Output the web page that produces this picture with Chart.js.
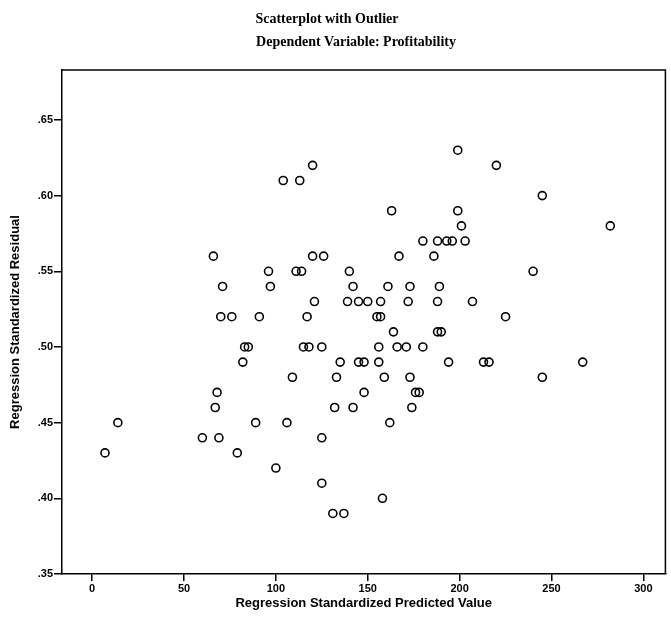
<!DOCTYPE html>
<html>
<head>
<meta charset="utf-8">
<script src="https://cdn.jsdelivr.net/npm/chart.js@4"></script>
<style>
  html, body { margin: 0; padding: 0; background: #fff; }
  #wrap { width: 671px; height: 624px; position: relative; }
</style>
</head>
<body>
<div id="wrap"><canvas id="scatterChart"></canvas></div>
<script>
// predicted value (x) and residual (y)
const predicted = [
    104, 66, 96, 71, 97, 70, 76, 91, 83, 85, 82, 68, 67, 14, 89, 106, 60, 69, 7, 79, 100,
    199, 120, 113, 163, 199, 201, 180, 188, 193, 196, 203, 120, 126, 167, 186,
    111, 114, 140, 142, 161, 173, 189, 121, 139, 145, 150, 157, 172, 188, 207,
    117, 155, 157, 164, 188, 190, 115, 118, 125, 156, 166, 171, 180,
    135, 145, 148, 156, 194, 109, 133, 159, 173, 148, 176, 178, 132, 142, 174,
    162, 125, 125, 158, 131, 137,
    220, 245, 282, 240, 225, 213, 216, 267, 245
];
const residual = [
    .61, .56, .55, .54, .54, .52, .52, .52, .50, .50, .49, .47, .46, .45, .45, .45, .44, .44, .43, .43, .42,
    .63, .62, .61, .59, .59, .58, .57, .57, .57, .57, .57, .56, .56, .56, .56,
    .55, .55, .55, .54, .54, .54, .54, .53, .53, .53, .53, .53, .53, .53, .53,
    .52, .52, .52, .51, .51, .51, .50, .50, .50, .50, .50, .50, .50,
    .49, .49, .49, .49, .49, .48, .48, .48, .48, .47, .47, .47, .46, .46, .46,
    .45, .44, .41, .40, .39, .39,
    .62, .60, .58, .55, .52, .49, .49, .49, .48
];
const xTicks = [0, 50, 100, 150, 200, 250, 300];
const yTicks = [.35, .40, .45, .50, .55, .60, .65];
const titleLines = ['Scatterplot with Outlier', 'Dependent Variable: Profitability'];

const points = predicted.map((x, i) => ({ x: x, y: residual[i] }));

// titles and the top/right frame lines
const framePlugin = {
    id: 'frame',
    afterDraw(chart) {
        const { ctx, chartArea } = chart;
        ctx.save();
        ctx.strokeStyle = '#000';
        ctx.lineWidth = 1.5;
        ctx.beginPath();
        ctx.moveTo(chartArea.left, chartArea.top);
        ctx.lineTo(chartArea.right, chartArea.top);
        ctx.lineTo(chartArea.right, chartArea.bottom);
        ctx.stroke();

        ctx.fillStyle = '#000';
        ctx.textAlign = 'center';
        ctx.textBaseline = 'middle';
        ctx.font = 'bold 14px "Liberation Serif", "Times New Roman", serif';
        ctx.fillText(titleLines[0], 327, 19);
        ctx.fillText(titleLines[1], 356, 42);
        ctx.restore();
    }
};

new Chart(document.getElementById('scatterChart').getContext('2d'), {
    type: 'scatter',
    data: {
        datasets: [{
            data: points,
            pointRadius: 4,
            pointHoverRadius: 4,
            pointBorderWidth: 1.6,
            pointBorderColor: '#000',
            pointBackgroundColor: 'rgba(0,0,0,0)'
        }]
    },
    options: {
        responsive: true,
        maintainAspectRatio: false,
        animation: false,
        layout: { padding: { top: 70, right: 1, left: 0, bottom: 0 } },
        plugins: {
            legend: { display: false },
            tooltip: { enabled: false }
        },
        scales: {
            x: {
                type: 'linear',
                min: -16.4,
                max: 312,
                afterFit: (scale) => { scale.height = 50; },
                afterBuildTicks: (scale) => { scale.ticks = xTicks.map(v => ({ value: v })); },
                grid: { drawOnChartArea: false, drawTicks: true, tickLength: 7, color: '#000', lineWidth: 1.5 },
                border: { display: true, color: '#000', width: 1.5 },
                ticks: {
                    color: '#000',
                    padding: 1,
                    maxRotation: 0,
                    font: { family: '"Liberation Sans", Arial, sans-serif', size: 11, weight: 'bold' }
                },
                title: {
                    display: true,
                    text: 'Regression Standardized Predicted Value',
                    color: '#000',
                    padding: { top: 13, bottom: 13 },
                    font: { family: '"Liberation Sans", Arial, sans-serif', size: 13, weight: 'bold' }
                }
            },
            y: {
                type: 'linear',
                min: 0.35,
                max: 0.683,
                afterFit: (scale) => { scale.width = 62; },
                afterBuildTicks: (scale) => { scale.ticks = yTicks.map(v => ({ value: v })); },
                grid: { drawOnChartArea: false, drawTicks: true, tickLength: 8, color: '#000', lineWidth: 1.5 },
                border: { display: true, color: '#000', width: 1.5 },
                ticks: {
                    color: '#000',
                    padding: 1,
                    font: { family: '"Liberation Sans", Arial, sans-serif', size: 11, weight: 'bold' },
                    callback: (value) => '.' + value.toFixed(2).split('.')[1]
                },
                title: {
                    display: true,
                    text: 'Regression Standardized Residual',
                    color: '#000',
                    padding: { top: 8, bottom: 8 },
                    font: { family: '"Liberation Sans", Arial, sans-serif', size: 13, weight: 'bold' }
                }
            }
        }
    },
    plugins: [framePlugin]
});
</script>
</body>
</html>
